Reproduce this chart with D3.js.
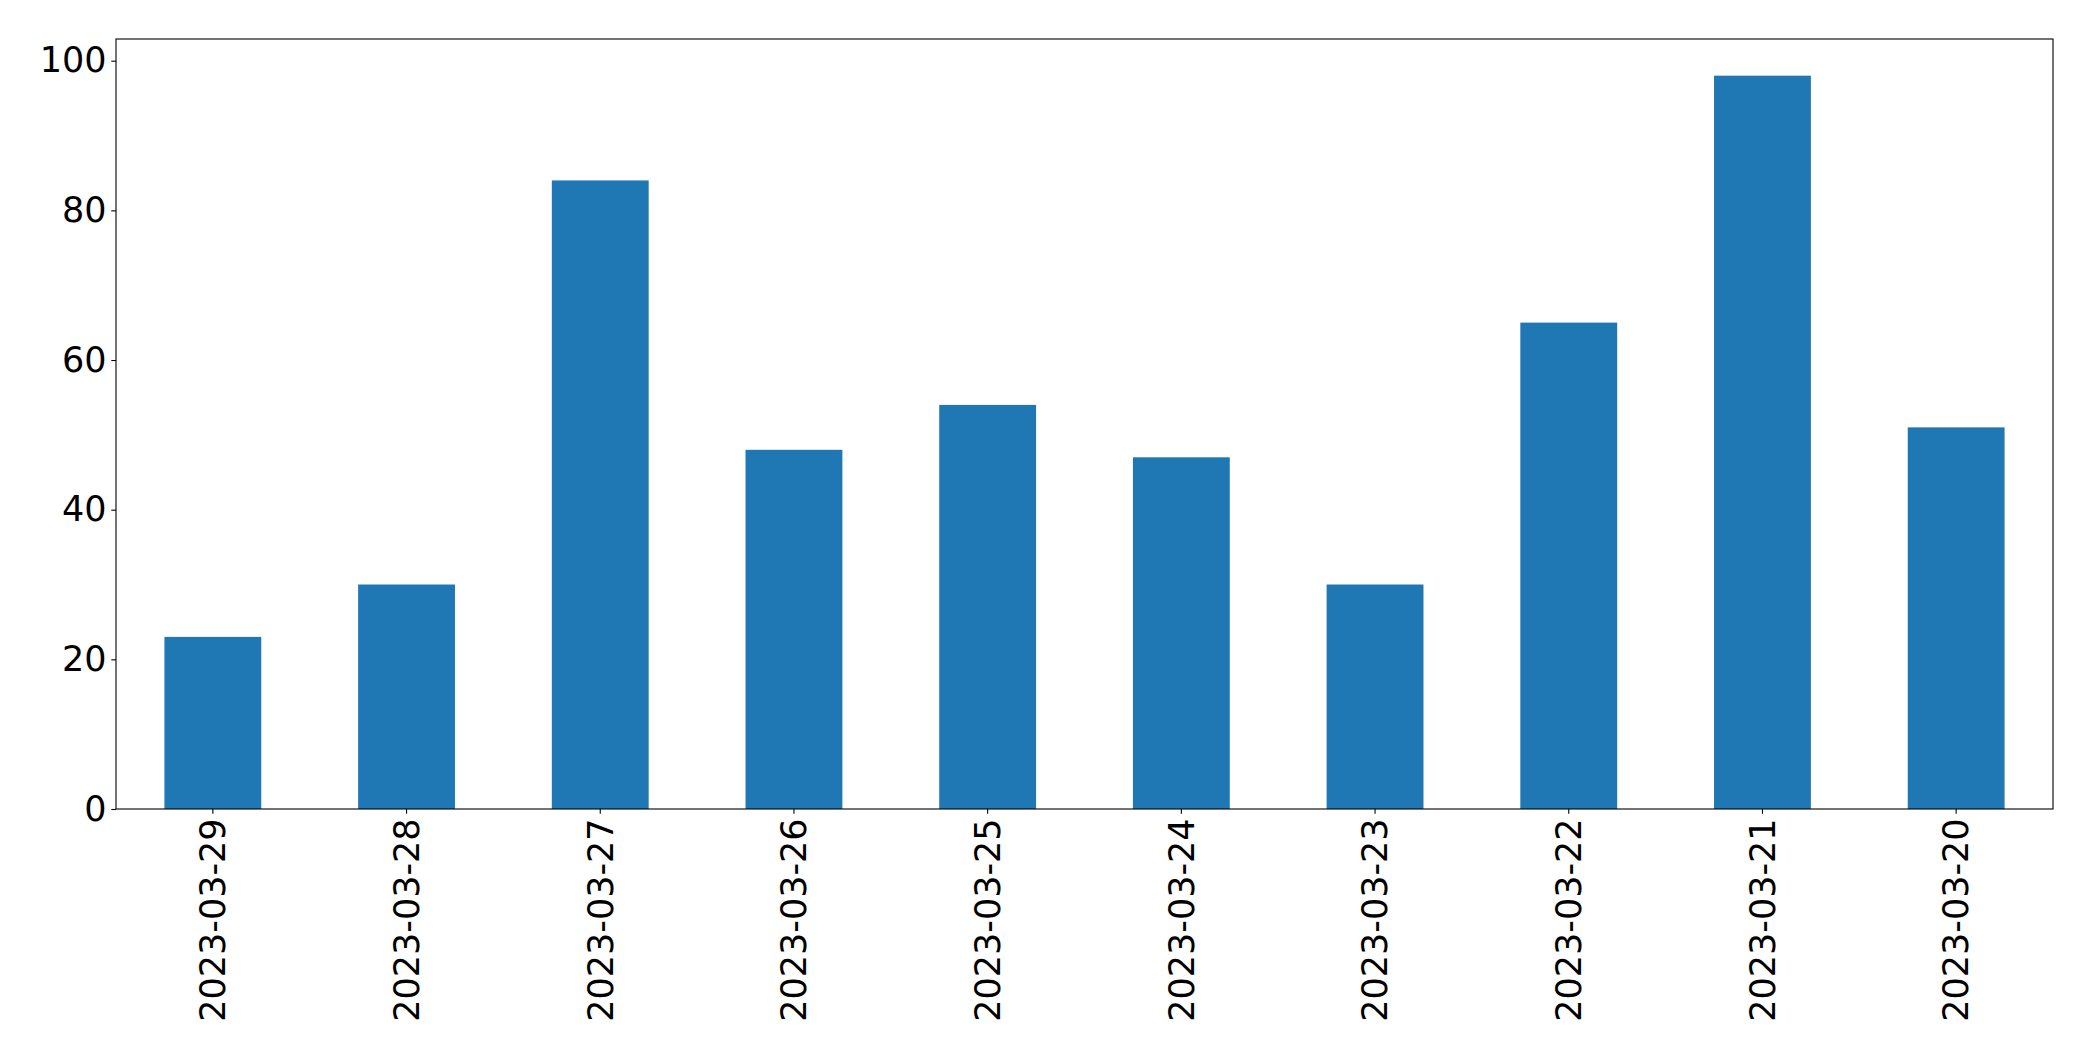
<!DOCTYPE html>
<html>
<head>
<meta charset="utf-8">
<script src="https://cdn.jsdelivr.net/npm/d3@7"></script>
<style>
  html, body { margin: 0; padding: 0; background: #fff; }
  svg { display: block; }
</style>
</head>
<body>
<div id="content"></div>
<script>
// ---- data ----
const dates = ["2023-03-29", "2023-03-28", "2023-03-27", "2023-03-26", "2023-03-25",
               "2023-03-24", "2023-03-23", "2023-03-22", "2023-03-21", "2023-03-20"];
const counts = [23, 30, 84, 48, 54, 47, 30, 65, 98, 51];
const yTicks = [0, 20, 40, 60, 80, 100];

// ---- layout ----
const width = 2093, height = 1061;
const margin = { top: 39, right: 40, bottom: 252, left: 116 };
const innerW = width - margin.left - margin.right;
const innerH = height - margin.top - margin.bottom;
const fontSize = 35;

const svg = d3.select("#content").append("svg")
    .attr("width", width)
    .attr("height", height)
    .style("font-family", "'DejaVu Sans', sans-serif");

const g = svg.append("g")
    .attr("transform", `translate(${margin.left},${margin.top})`);

const x = d3.scaleBand()
    .domain(dates)
    .range([0, innerW])
    .paddingInner(0.5)
    .paddingOuter(0.25);

const y = d3.scaleLinear()
    .domain([0, d3.max(counts) * 1.05])
    .range([innerH, 0]);

// bars
g.selectAll("rect.bar")
    .data(dates)
    .enter().append("rect")
    .attr("class", "bar")
    .attr("x", d => x(d))
    .attr("y", (d, i) => y(counts[i]))
    .attr("width", x.bandwidth())
    .attr("height", (d, i) => innerH - y(counts[i]))
    .attr("fill", "#1f77b4");

// y axis
const yAxis = g.append("g")
    .call(d3.axisLeft(y).tickValues(yTicks).tickSize(4.7).tickPadding(4.7));
yAxis.select(".domain").remove();
yAxis.selectAll("line").attr("stroke", "#000").attr("stroke-width", 1.1);
yAxis.selectAll("text")
    .attr("fill", "#000")
    .style("font-size", fontSize + "px")
    .style("font-family", "'DejaVu Sans', sans-serif");

// x axis
const xAxis = g.append("g")
    .attr("transform", `translate(0,${innerH})`)
    .call(d3.axisBottom(x).tickSize(4.7).tickPadding(4.7));
xAxis.select(".domain").remove();
xAxis.selectAll("line").attr("stroke", "#000").attr("stroke-width", 1.1);
xAxis.selectAll("text")
    .attr("fill", "#000")
    .style("font-size", fontSize + "px")
    .style("font-family", "'DejaVu Sans', sans-serif")
    .attr("transform", "rotate(-90)")
    .attr("text-anchor", "end")
    .attr("x", -9.4)
    .attr("y", 0)
    .attr("dy", "0.35em");

// frame
g.append("rect")
    .attr("x", 0)
    .attr("y", 0)
    .attr("width", innerW)
    .attr("height", innerH)
    .attr("fill", "none")
    .attr("stroke", "#000")
    .attr("stroke-width", 1.1);
</script>
</body>
</html>
